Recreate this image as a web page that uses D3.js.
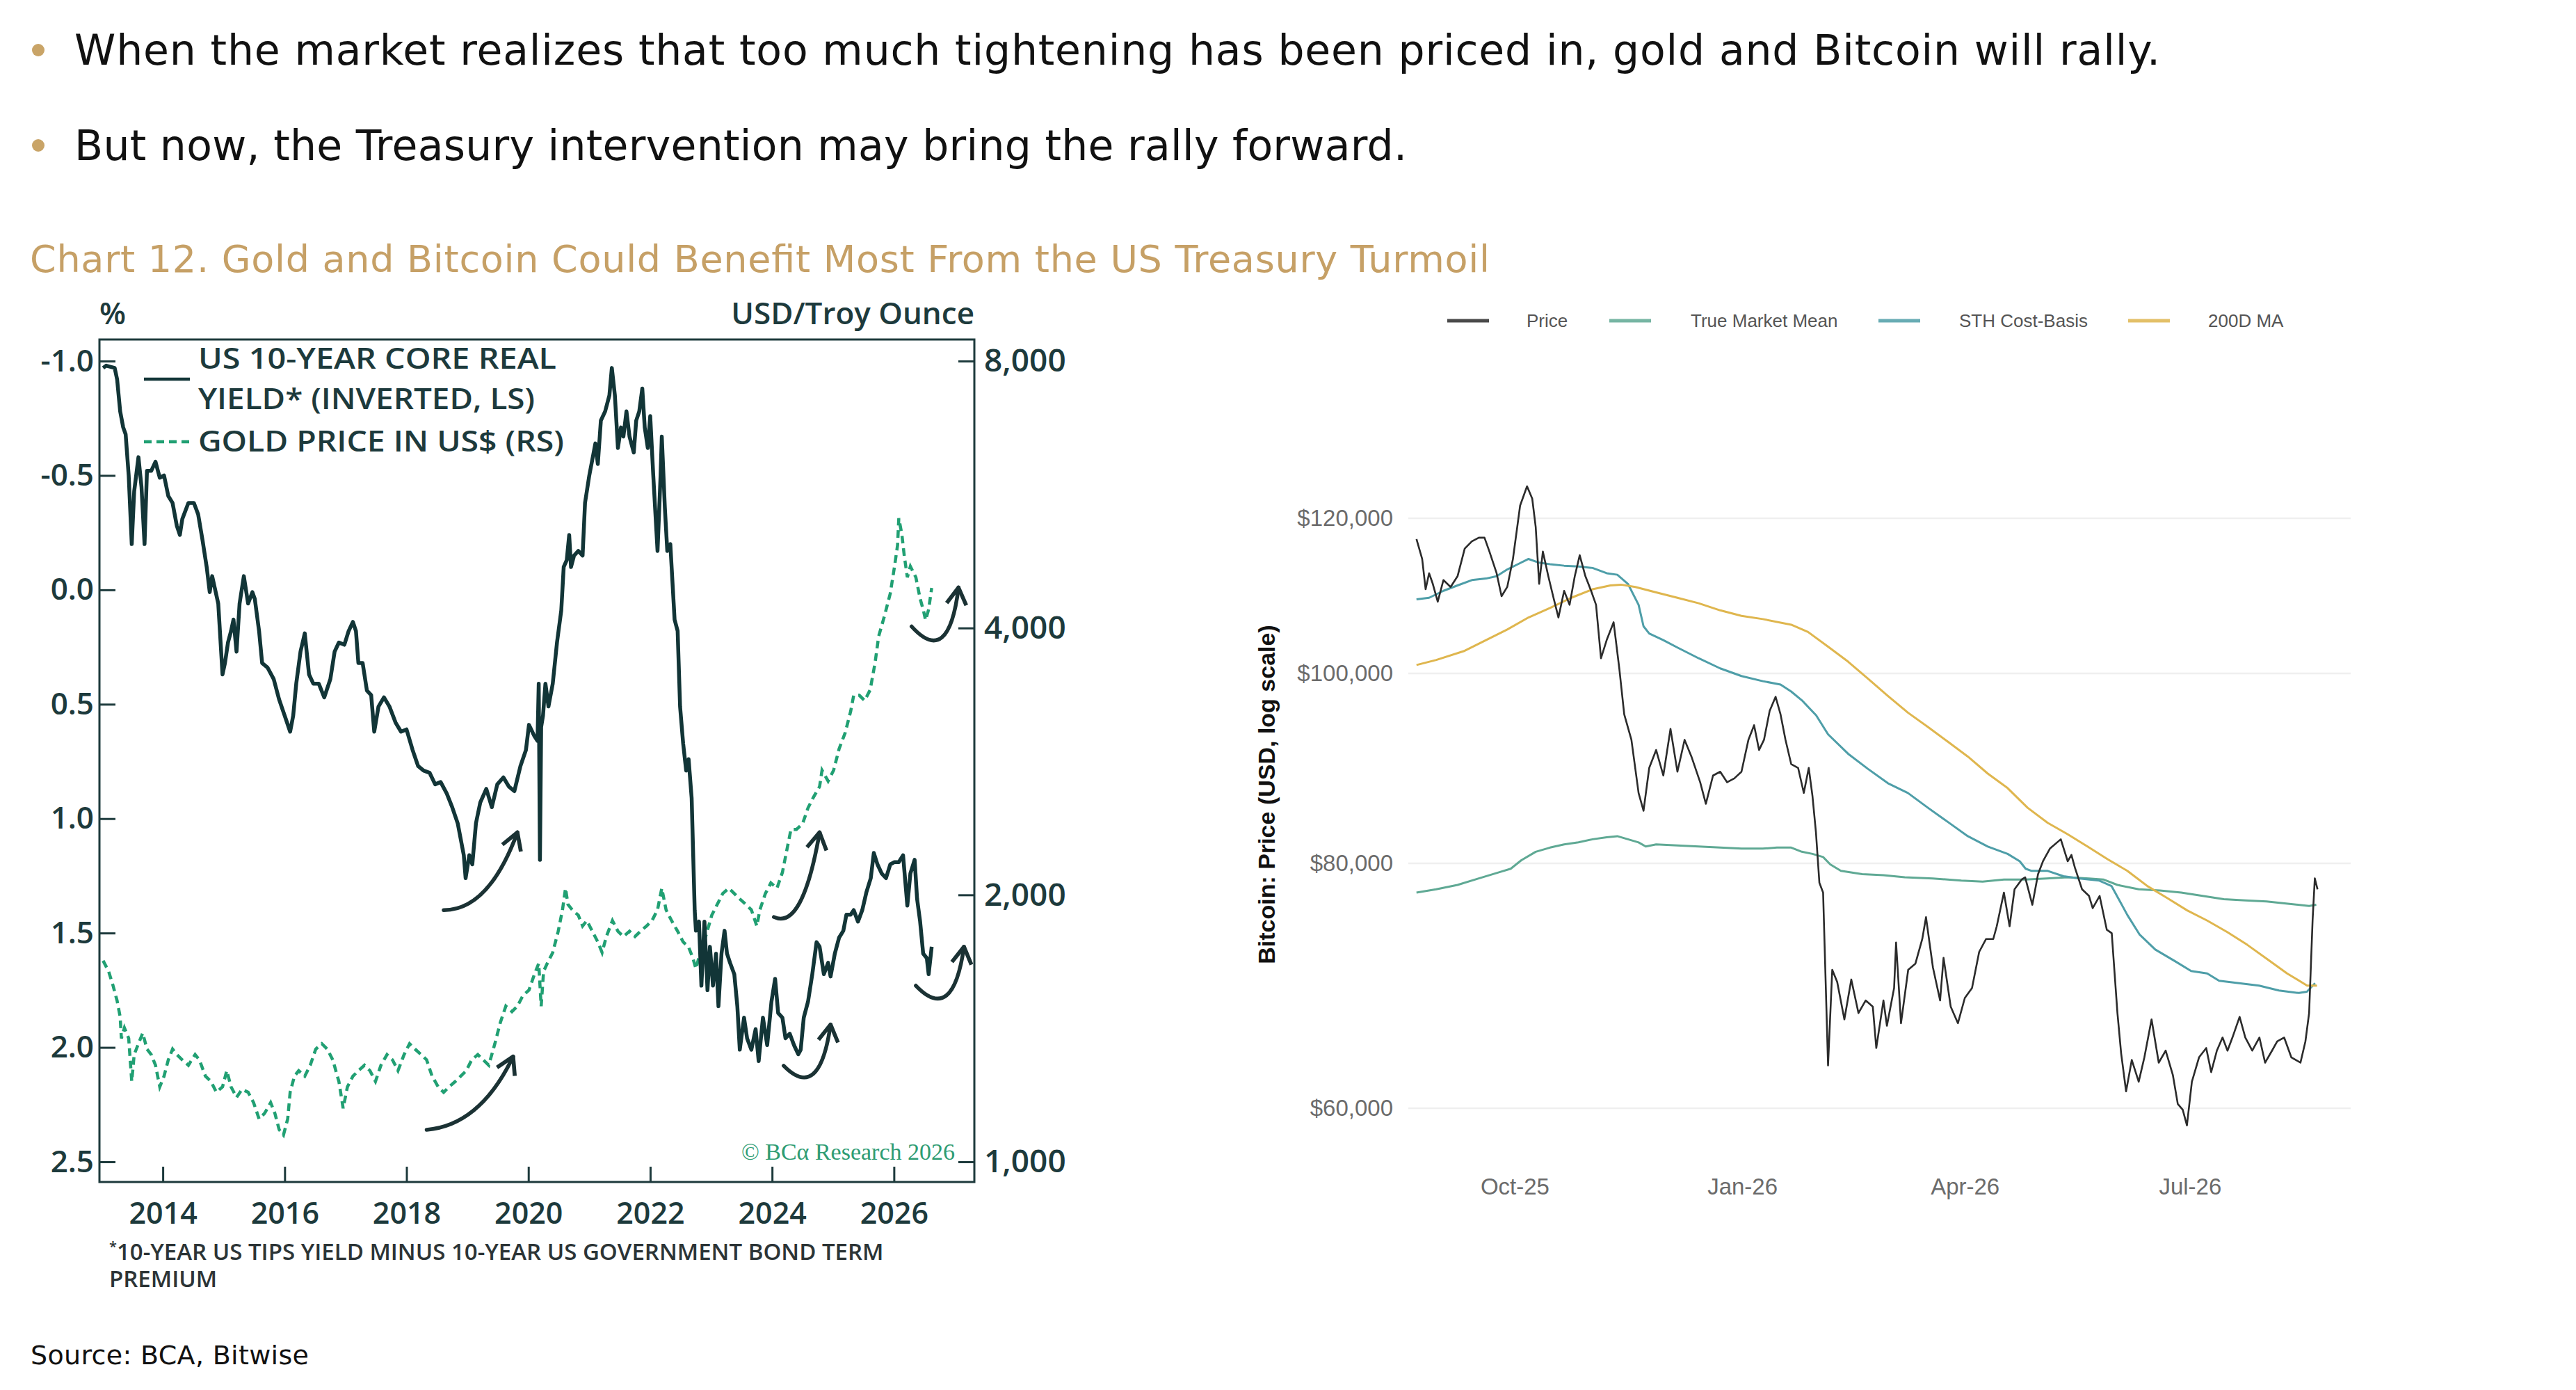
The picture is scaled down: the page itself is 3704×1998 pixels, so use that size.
<!DOCTYPE html>
<html>
<head>
<meta charset="utf-8">
<script src="https://cdn.jsdelivr.net/npm/d3@7"></script>
<style>
  body { margin: 0; background: #fff; }
</style>
</head>
<body>
<div id="canvas"></div>
<script>
// ---- data ----
const bullets = [
    "When the market realizes that too much tightening has been priced in, gold and Bitcoin will rally.",
    "But now, the Treasury intervention may bring the rally forward."
];
const chartTitle = "Chart 12. Gold and Bitcoin Could Benefit Most From the US Treasury Turmoil";

// left panel: [decimal year, value]
const realYield = [
    [2013.02,-0.97],[2013.07,-0.98],[2013.21,-0.97],[2013.25,-0.92],[2013.30,-0.78],[2013.35,-0.71],[2013.39,-0.68],
    [2013.44,-0.50],[2013.49,-0.20],[2013.53,-0.43],[2013.60,-0.58],[2013.65,-0.45],[2013.70,-0.20],[2013.74,-0.52],
    [2013.81,-0.52],[2013.88,-0.56],[2013.95,-0.49],[2014.02,-0.50],[2014.09,-0.41],[2014.16,-0.38],[2014.23,-0.28],
    [2014.28,-0.24],[2014.32,-0.31],[2014.42,-0.38],[2014.51,-0.38],[2014.58,-0.33],[2014.65,-0.22],[2014.72,-0.10],
    [2014.77,0.01],[2014.81,-0.06],[2014.91,0.06],[2014.98,0.37],[2015.02,0.32],[2015.07,0.23],[2015.12,0.18],
    [2015.16,0.13],[2015.21,0.27],[2015.26,0.06],[2015.33,-0.06],[2015.40,0.06],[2015.47,0.01],[2015.51,0.04],
    [2015.58,0.18],[2015.63,0.32],[2015.72,0.34],[2015.82,0.39],[2015.91,0.48],[2016.00,0.55],[2016.09,0.62],
    [2016.14,0.55],[2016.19,0.41],[2016.26,0.27],[2016.33,0.19],[2016.40,0.37],[2016.47,0.41],[2016.56,0.41],
    [2016.65,0.47],[2016.75,0.39],[2016.82,0.27],[2016.89,0.23],[2016.98,0.24],[2017.05,0.18],[2017.12,0.14],
    [2017.17,0.18],[2017.21,0.32],[2017.28,0.32],[2017.35,0.44],[2017.42,0.46],[2017.47,0.62],[2017.54,0.51],
    [2017.63,0.47],[2017.72,0.51],[2017.82,0.58],[2017.91,0.62],[2018.00,0.61],[2018.10,0.70],[2018.19,0.77],
    [2018.28,0.79],[2018.38,0.80],[2018.47,0.85],[2018.56,0.84],[2018.66,0.89],[2018.75,0.95],[2018.84,1.02],
    [2018.94,1.16],[2018.97,1.26],[2019.03,1.16],[2019.08,1.20],[2019.14,1.02],[2019.21,0.93],[2019.31,0.87],
    [2019.40,0.95],[2019.49,0.85],[2019.59,0.82],[2019.68,0.86],[2019.77,0.88],[2019.87,0.77],[2019.96,0.70],
    [2020.01,0.59],[2020.10,0.64],[2020.15,0.66],[2020.17,0.41],[2020.19,1.18],[2020.21,0.60],[2020.24,0.55],
    [2020.28,0.41],[2020.33,0.51],[2020.40,0.41],[2020.47,0.23],[2020.54,0.09],[2020.58,-0.10],[2020.63,-0.13],
    [2020.67,-0.24],[2020.70,-0.10],[2020.75,-0.15],[2020.82,-0.17],[2020.89,-0.15],[2020.93,-0.38],[2021.00,-0.50],
    [2021.05,-0.57],[2021.10,-0.64],[2021.14,-0.55],[2021.19,-0.74],[2021.26,-0.78],[2021.33,-0.85],[2021.37,-0.97],
    [2021.42,-0.85],[2021.47,-0.62],[2021.52,-0.71],[2021.56,-0.67],[2021.61,-0.78],[2021.66,-0.67],[2021.73,-0.60],
    [2021.77,-0.74],[2021.82,-0.78],[2021.87,-0.88],[2021.91,-0.71],[2021.96,-0.62],[2022.00,-0.76],[2022.05,-0.50],
    [2022.12,-0.17],[2022.17,-0.50],[2022.19,-0.67],[2022.24,-0.36],[2022.28,-0.17],[2022.33,-0.20],[2022.40,0.13],
    [2022.45,0.18],[2022.49,0.51],[2022.54,0.67],[2022.59,0.79],[2022.63,0.74],[2022.68,0.91],[2022.73,1.40],
    [2022.75,1.49],[2022.80,1.45],[2022.84,1.73],[2022.89,1.45],[2022.94,1.75],[2022.98,1.56],[2023.03,1.73],
    [2023.08,1.59],[2023.12,1.82],[2023.17,1.59],[2023.22,1.49],[2023.26,1.59],[2023.31,1.63],[2023.38,1.68],
    [2023.43,1.82],[2023.47,2.01],[2023.54,1.87],[2023.59,1.96],[2023.66,2.01],[2023.73,1.92],[2023.78,2.06],
    [2023.85,1.87],[2023.92,1.99],[2023.99,1.80],[2024.05,1.70],[2024.10,1.85],[2024.17,1.87],[2024.22,1.96],
    [2024.29,1.94],[2024.36,1.99],[2024.43,2.03],[2024.47,2.01],[2024.52,1.87],[2024.59,1.80],[2024.66,1.68],
    [2024.73,1.54],[2024.78,1.56],[2024.85,1.68],[2024.92,1.63],[2024.96,1.69],[2025.03,1.59],[2025.10,1.52],
    [2025.17,1.49],[2025.22,1.42],[2025.29,1.42],[2025.34,1.40],[2025.41,1.45],[2025.48,1.40],[2025.55,1.32],
    [2025.62,1.26],[2025.67,1.15],[2025.73,1.20],[2025.80,1.24],[2025.87,1.26],[2025.94,1.20],[2026.01,1.19],
    [2026.08,1.19],[2026.15,1.16],[2026.22,1.38],[2026.27,1.24],[2026.34,1.18],[2026.38,1.35],[2026.43,1.45],
    [2026.48,1.59],[2026.54,1.61],[2026.57,1.68],[2026.62,1.56]
];

const goldPrice = [
    [2013.02,1686],[2013.11,1640],[2013.18,1583],[2013.25,1519],[2013.30,1457],[2013.32,1378],[2013.37,1416],
    [2013.44,1378],[2013.49,1232],[2013.53,1321],[2013.60,1359],[2013.67,1397],[2013.74,1340],[2013.81,1321],
    [2013.88,1285],[2013.95,1215],[2014.02,1249],[2014.09,1303],[2014.16,1340],[2014.23,1321],[2014.32,1303],
    [2014.42,1285],[2014.53,1321],[2014.60,1303],[2014.70,1249],[2014.79,1232],[2014.88,1198],[2014.98,1215],
    [2015.05,1267],[2015.12,1215],[2015.21,1182],[2015.30,1207],[2015.40,1198],[2015.49,1166],[2015.58,1118],
    [2015.67,1134],[2015.77,1166],[2015.84,1134],[2015.91,1087],[2015.98,1072],[2016.05,1118],[2016.09,1198],
    [2016.16,1249],[2016.23,1267],[2016.33,1249],[2016.42,1285],[2016.51,1340],[2016.61,1359],[2016.70,1340],
    [2016.79,1303],[2016.89,1232],[2016.96,1149],[2017.03,1215],[2017.12,1249],[2017.21,1267],[2017.31,1285],
    [2017.40,1267],[2017.49,1232],[2017.58,1285],[2017.68,1321],[2017.77,1303],[2017.86,1267],[2017.96,1321],
    [2018.05,1359],[2018.14,1340],[2018.24,1321],[2018.33,1303],[2018.42,1249],[2018.52,1215],[2018.61,1198],
    [2018.70,1215],[2018.80,1232],[2018.89,1249],[2018.98,1267],[2019.07,1303],[2019.17,1321],[2019.26,1303],
    [2019.35,1285],[2019.45,1359],[2019.54,1436],[2019.63,1498],[2019.73,1477],[2019.82,1498],[2019.91,1540],
    [2020.01,1562],[2020.10,1628],[2020.17,1674],[2020.21,1498],[2020.25,1640],[2020.31,1674],[2020.40,1722],
    [2020.49,1820],[2020.56,1924],[2020.61,2035],[2020.65,1951],[2020.72,1924],[2020.82,1897],[2020.89,1845],
    [2020.96,1871],[2021.05,1820],[2021.14,1770],[2021.21,1722],[2021.28,1795],[2021.38,1871],[2021.47,1820],
    [2021.56,1795],[2021.66,1820],[2021.75,1795],[2021.84,1820],[2021.94,1845],[2022.03,1871],[2022.12,1924],
    [2022.19,2035],[2022.26,1924],[2022.35,1871],[2022.45,1820],[2022.54,1770],[2022.63,1746],[2022.70,1698],
    [2022.75,1651],[2022.82,1722],[2022.91,1795],[2023.01,1897],[2023.10,1951],[2023.19,2007],[2023.29,2035],
    [2023.38,2007],[2023.47,1979],[2023.57,1951],[2023.66,1924],[2023.75,1845],[2023.80,1924],[2023.89,2007],
    [2023.98,2063],[2024.08,2035],[2024.17,2121],[2024.24,2243],[2024.31,2371],[2024.40,2371],[2024.50,2405],
    [2024.59,2507],[2024.68,2578],[2024.78,2650],[2024.82,2764],[2024.92,2688],[2025.01,2764],[2025.10,2922],
    [2025.20,3047],[2025.29,3222],[2025.34,3359],[2025.43,3359],[2025.52,3313],[2025.61,3406],[2025.69,3652],
    [2025.75,3915],[2025.85,4139],[2025.94,4376],[2026.01,4693],[2026.06,4961],[2026.08,5319],[2026.13,5101],
    [2026.17,4824],[2026.22,4563],[2026.27,4693],[2026.36,4563],[2026.43,4316],[2026.48,4198],[2026.52,4082],
    [2026.57,4198],[2026.62,4438]
];

const yearTicks = [2014, 2016, 2018, 2020, 2022, 2024, 2026];
const yieldTicks = [-1.0, -0.5, 0.0, 0.5, 1.0, 1.5, 2.0, 2.5];
const goldTicks = [1000, 2000, 4000, 8000];

// hand-drawn arrows, in [year, yield] units: start, bend, tip
const arrows = [
    [[2018.61, 1.40], [2019.35, 1.40], [2019.82, 1.06]],
    [[2018.33, 2.36], [2019.21, 2.34], [2019.75, 2.04]],
    [[2024.03, 1.43], [2024.50, 1.49], [2024.78, 1.06]],
    [[2024.19, 2.08], [2024.78, 2.24], [2024.96, 1.90]],
    [[2026.36, 1.73], [2026.97, 1.90], [2027.15, 1.56]],
    [[2026.29, 0.16], [2026.90, 0.34], [2027.06, -0.01]]
];

// right panel: [days from 2025-10-01, USD]
const btcPrice = [
    [-39.7,117100],[-37.4,114400],[-36.0,110400],[-34.6,112500],[-33.1,111100],[-31.1,108800],[-28.8,111600],
    [-25.9,110700],[-23.1,112100],[-20.2,115800],[-17.3,116800],[-14.5,117300],[-12.2,117300],[-10.2,115400],
    [-7.3,112500],[-5.3,109500],[-3.0,110700],[-0.7,114400],[2.2,121800],[5.0,124600],[7.1,122800],[8.5,118800],
    [9.9,111100],[11.4,115400],[13.6,112100],[15.7,109300],[17.7,106800],[20.0,110200],[22.2,108400],[24.3,112100],
    [26.3,114900],[28.6,112100],[30.9,110200],[32.9,108400],[34.9,101800],[37.2,104000],[40.0,106200],[42.3,100600],
    [44.3,95300],[47.2,92500],[50.1,86900],[52.1,85100],[54.4,89500],[57.2,91400],[60.1,88700],[63.0,93700],
    [65.8,89100],[68.7,92500],[71.6,90600],[75.0,88000],[77.3,85800],[80.2,88700],[83.1,89100],[85.9,88000],
    [88.8,88400],[91.7,89100],[94.5,92500],[96.8,94100],[98.8,91400],[100.8,92500],[103.1,95700],[105.5,97300],
    [107.5,95300],[109.5,92500],[111.8,89900],[114.6,89500],[116.9,86900],[118.9,89500],[120.4,86600],[121.8,83000],
    [123.2,78200],[124.7,77300],[126.7,63100],[128.4,70600],[130.4,69600],[133.3,66600],[136.1,69800],[139.0,67100],
    [141.9,68100],[144.8,67600],[146.2,64400],[149.1,68100],[150.5,66100],[153.4,69100],[154.2,72900],[156.2,66300],
    [159.1,70600],[162.0,71100],[164.8,73200],[166.3,75100],[169.1,70800],[172.0,68100],[173.4,71600],[176.3,67600],
    [179.2,66300],[182.0,68300],[184.9,69100],[187.8,72100],[190.6,73200],[193.5,73200],[194.9,74300],[197.8,77300],
    [200.1,74300],[202.1,77600],[205.0,78500],[206.4,78700],[209.3,76200],[211.6,79000],[213.6,80200],[216.4,81400],
    [220.8,82300],[223.6,80200],[225.1,80800],[226.5,79600],[229.4,77600],[232.2,77000],[233.7,75900],[236.5,77000],
    [239.4,74000],[241.4,73700],[243.7,67100],[245.2,64000],[247.2,61200],[249.5,63500],[252.3,61900],[254.6,63700],
    [257.5,66600],[260.4,63300],[263.2,64200],[266.1,62400],[268.1,60300],[270.1,59900],[271.8,58800],[273.8,61900],
    [276.7,63700],[279.6,64400],[281.6,62600],[283.9,64200],[286.2,65200],[288.2,64200],[290.2,65200],[293.1,66800],
    [295.4,65200],[298.2,64200],[301.1,65200],[303.4,63300],[306.2,64200],[308.3,64900],[311.1,65200],[314.0,63700],
    [317.7,63300],[319.7,64900],[321.2,67100],[322.6,74800],[323.5,78600],[324.6,77600]
];

const btcTrueMarketMean = [
    [-39.7,77300],[-31.7,77600],[-23.1,78000],[-14.5,78600],[-5.9,79200],[-1.6,79500],[2.7,80300],[8.5,81100],
    [14.3,81500],[20.0,81800],[25.8,82000],[31.5,82300],[37.2,82500],[41.5,82600],[45.8,82300],[50.1,82000],
    [53.0,81600],[57.2,81800],[65.8,81700],[74.4,81600],[83.1,81500],[91.7,81400],[100.3,81400],[106.0,81500],
    [111.8,81500],[116.1,81100],[120.4,80900],[124.7,80600],[127.6,79900],[131.9,79300],[140.5,79000],[149.1,78900],
    [157.7,78700],[169.1,78600],[180.6,78400],[189.2,78300],[197.8,78500],[206.4,78500],[215.0,78600],[223.6,78700],
    [232.2,78600],[238.0,78500],[243.7,78000],[252.3,77600],[260.9,77500],[269.5,77300],[278.1,77000],[286.7,76700],
    [295.4,76600],[304.0,76500],[312.6,76300],[321.2,76100],[324.1,76200]
];

const btcSthCostBasis = [
    [-39.7,109100],[-34.6,109300],[-28.8,110200],[-23.1,110900],[-17.3,111600],[-11.6,111800],[-7.3,112100],
    [-3.0,113000],[1.3,113700],[5.6,114400],[9.9,113900],[14.3,113700],[20.0,113500],[25.8,113400],[31.5,113200],
    [37.2,112500],[41.5,112300],[45.8,111100],[50.1,108400],[52.1,105700],[54.4,104800],[60.1,104000],[65.8,103100],
    [74.4,101800],[83.1,100600],[91.7,99700],[100.3,99100],[107.5,98700],[111.8,97900],[116.1,96900],[121.9,95200],
    [126.7,93100],[134.8,91000],[142.8,89400],[150.9,87900],[159.0,86900],[167.1,85400],[175.1,84000],[183.2,82600],
    [191.3,81600],[199.3,80900],[204.2,80200],[206.6,79500],[209.0,79300],[215.5,79300],[221.9,78800],[228.4,78600],
    [236.4,78400],[241.3,77900],[244.5,76600],[247.7,75300],[252.6,73600],[259.0,72300],[267.1,71300],[273.5,70500],
    [280.0,70300],[284.8,69700],[292.9,69500],[301.0,69300],[309.0,68900],[317.1,68700],[320.3,68800],[323.6,69500]
];

const btcMa200 = [
    [-39.7,101000],[-31.7,101600],[-20.2,102700],[-11.6,104000],[-3.0,105300],[5.6,106800],[14.3,108000],
    [22.9,109300],[31.5,110400],[38.7,110900],[43.0,111000],[48.8,110700],[57.2,110000],[65.8,109300],[74.4,108600],
    [83.1,107700],[91.7,107000],[100.3,106600],[111.8,105900],[118.6,105000],[126.7,103200],[134.8,101400],
    [142.8,99400],[150.9,97400],[159.0,95500],[167.1,93900],[175.1,92300],[183.2,90700],[191.3,88900],[199.3,87400],
    [207.4,85400],[215.5,83900],[223.5,82800],[231.6,81600],[239.7,80400],[247.7,79300],[255.8,77900],[263.9,76800],
    [271.9,75700],[280.0,74800],[288.1,73800],[296.2,72700],[304.2,71500],[312.3,70300],[320.4,69300],[324.4,69300]
];

const btcTicks = [60000, 80000, 100000, 120000];
const monthTicks = ["2025-10-01", "2026-01-01", "2026-04-01", "2026-07-01"];
const btcSeries = ["Price", "True Market Mean", "STH Cost-Basis", "200D MA"];
const btcColors = ["#2b2b2b", "#5fa994", "#4e9ea8", "#dfb64e"];

// ---- page ----
const W = 3704, H = 1998;
const canvas = d3.select("#canvas");
const svg = canvas.append("svg").attr("width", W).attr("height", H);
const pageFont = "'DejaVu Sans', Lato, sans-serif";

// header
const bulletY = [93, 230];
const bulletLen = [2999, 1916];
bullets.forEach((t, i) => {
    svg.append("circle").attr("cx", 55).attr("cy", bulletY[i] - 21).attr("r", 9).style("fill", "#c9a467");
    svg.append("text")
        .attr("x", 107).attr("y", bulletY[i])
        .attr("textLength", bulletLen[i]).attr("lengthAdjust", "spacing")
        .style("font-family", pageFont)
        .style("font-size", "60px")
        .style("fill", "#111")
        .text(t);
});
svg.append("text")
    .attr("x", 43).attr("y", 391)
    .attr("textLength", 2099).attr("lengthAdjust", "spacing")
    .style("font-family", pageFont)
    .style("font-size", "54px")
    .style("fill", "#c6a066")
    .text(chartTitle);

// ===== left panel: real yield vs gold =====
const ink = "#1d3a3c";
const L = { x: 143, y: 488, w: 1258, h: 1211 };
const gL = svg.append("g").attr("transform", `translate(${L.x},${L.y})`)
    .style("font-family", "'Open Sans', sans-serif");

const xL = d3.scaleLinear().domain([2012.96, 2027.32]).range([0, L.w]);
const yL = d3.scaleLinear().domain([-1, 2.5]).range([31, 1182]);
const yR = d3.scaleLog().base(2).domain([1000, 8000]).range([1182, 31]);

gL.append("path")
    .datum(goldPrice)
    .attr("d", d3.line().x(d => xL(d[0])).y(d => yR(d[1])))
    .style("fill", "none")
    .style("stroke", "#21a073")
    .style("stroke-width", 4.5)
    .style("stroke-dasharray", "11,7");

gL.append("path")
    .datum(realYield)
    .attr("d", d3.line().x(d => xL(d[0])).y(d => yL(d[1])))
    .style("fill", "none")
    .style("stroke", "#123537")
    .style("stroke-width", 5.5)
    .style("stroke-linejoin", "round");

// arrows
const defs = svg.append("defs");
defs.append("marker")
    .attr("id", "head")
    .attr("markerUnits", "userSpaceOnUse")
    .attr("viewBox", "0 0 24 24")
    .attr("refX", 21).attr("refY", 12)
    .attr("markerWidth", 34).attr("markerHeight", 34)
    .attr("orient", "auto")
    .append("path")
    .attr("d", "M4,2 L21,12 L4,22")
    .style("fill", "none")
    .style("stroke", "#1b3234")
    .style("stroke-width", 4)
    .style("stroke-linejoin", "round");

arrows.forEach(a => {
    const p = d3.path();
    p.moveTo(xL(a[0][0]), yL(a[0][1]));
    p.quadraticCurveTo(xL(a[1][0]), yL(a[1][1]), xL(a[2][0]), yL(a[2][1]));
    gL.append("path")
        .attr("d", p.toString())
        .attr("marker-end", "url(#head)")
        .style("fill", "none")
        .style("stroke", "#1b3234")
        .style("stroke-width", 5.5)
        .style("stroke-linecap", "round");
});

gL.append("rect")
    .attr("width", L.w).attr("height", L.h)
    .style("fill", "none").style("stroke", ink).style("stroke-width", 3);

const styleAxis = g => {
    g.select(".domain").remove();
    g.selectAll(".tick line").style("stroke", ink).style("stroke-width", 3);
    g.selectAll(".tick text")
        .style("font-family", "'Open Sans', sans-serif")
        .style("font-size", "44px")
        .style("font-weight", 600)
        .style("fill", ink);
};

gL.append("g")
    .call(d3.axisLeft(yL).tickValues(yieldTicks).tickSize(-23).tickPadding(8)
        .tickFormat(d => d3.format(".1f")(d).replace("\u2212", "-")))
    .call(styleAxis);

gL.append("g")
    .attr("transform", `translate(${L.w},0)`)
    .call(d3.axisRight(yR).tickValues(goldTicks).tickSize(-23).tickPadding(14).tickFormat(d3.format(",")))
    .call(styleAxis)
    .call(g => g.selectAll(".tick text").style("font-size", "46px"));

gL.append("g")
    .attr("transform", `translate(0,${L.h})`)
    .call(d3.axisBottom(xL).tickValues(yearTicks).tickSize(-22).tickPadding(29).tickFormat(d3.format("d")))
    .call(styleAxis)
    .call(g => g.selectAll(".tick text").style("font-size", "43px"));

// unit labels
const unitStyle = s => s.style("font-family", "'Open Sans', sans-serif").style("font-size", "44px")
    .style("font-weight", 600).style("fill", ink);
svg.append("text").attr("x", 143).attr("y", 466).text("%").call(unitStyle);
svg.append("text").attr("x", 1401).attr("y", 466).attr("text-anchor", "end").text("USD/Troy Ounce").call(unitStyle);

// legend
svg.append("line").attr("x1", 207).attr("x2", 273).attr("y1", 545).attr("y2", 545)
    .style("stroke", "#123537").style("stroke-width", 4.5);
svg.append("line").attr("x1", 207).attr("x2", 273).attr("y1", 635).attr("y2", 635)
    .style("stroke", "#21a073").style("stroke-width", 4.5).style("stroke-dasharray", "11,7");
const legendLines = ["US 10-YEAR CORE REAL", "YIELD* (INVERTED, LS)", "GOLD PRICE IN US$ (RS)"];
const legendBase = [530, 588, 649];
const legendLen = [515, 484, 526];
legendLines.forEach((t, i) => {
    svg.append("text").attr("x", 285).attr("y", legendBase[i])
        .attr("textLength", legendLen[i]).attr("lengthAdjust", "spacingAndGlyphs")
        .text(t)
        .call(unitStyle).style("font-size", "42px");
});

// copyright
svg.append("text")
    .attr("x", 1373).attr("y", 1667).attr("text-anchor", "end")
    .style("font-family", "'Liberation Serif', 'DejaVu Serif', serif")
    .style("font-size", "34px")
    .style("fill", "#2e9c73")
    .text("\u00A9 BC\u03B1 Research 2026");

// footnote
const foot = svg.append("text")
    .style("font-family", "'Open Sans', sans-serif").style("font-size", "33px")
    .style("font-weight", 600).style("fill", "#2c3436");
foot.append("tspan").attr("x", 157).attr("y", 1799).style("font-size", "20px").text("*");
foot.append("tspan").attr("y", 1811).text("10-YEAR US TIPS YIELD MINUS 10-YEAR US GOVERNMENT BOND TERM");
svg.append("text")
    .attr("x", 157).attr("y", 1850)
    .style("font-family", "'Open Sans', sans-serif").style("font-size", "33px")
    .style("font-weight", 600).style("fill", "#2c3436")
    .text("PREMIUM");

svg.append("text")
    .attr("x", 44).attr("y", 1961)
    .attr("textLength", 400).attr("lengthAdjust", "spacing")
    .style("font-family", pageFont)
    .style("font-size", "38px")
    .style("fill", "#111")
    .text("Source: BCA, Bitwise");

// ===== right panel: bitcoin =====
const R = { x: 2025, y: 560, w: 1355, h: 1100 };
const gR = svg.append("g").attr("transform", `translate(${R.x},${R.y})`)
    .style("font-family", "'Liberation Sans', Arial, sans-serif");

const baseDay = Date.UTC(2025, 9, 1);
const toDate = d => new Date(baseDay + d * 864e5);
const xB = d3.scaleUtc()
    .domain([new Date(Date.UTC(2025, 7, 19)), new Date(Date.UTC(2026, 8, 4))])
    .range([0, R.w]);
const yB = d3.scaleLog().domain([60000, 120000]).range([1033, 185]);

gR.selectAll("line.grid").data(btcTicks).enter().append("line")
    .attr("class", "grid")
    .attr("x1", 0).attr("x2", R.w)
    .attr("y1", d => yB(d)).attr("y2", d => yB(d))
    .style("stroke", "#efefef").style("stroke-width", 2.5);

gR.append("g")
    .call(d3.axisLeft(yB).tickValues(btcTicks).tickSize(0).tickPadding(22)
        .tickFormat(d => "$" + d3.format(",")(d)))
    .call(g => g.select(".domain").remove())
    .call(g => g.selectAll(".tick text").style("font-size", "33px").style("fill", "#6b6b6b")
        .style("font-family", "'Liberation Sans', Arial, sans-serif"));

gR.append("g")
    .attr("transform", `translate(0,${R.h})`)
    .call(d3.axisBottom(xB).tickValues(monthTicks.map(d3.utcParse("%Y-%m-%d"))).tickSize(0).tickPadding(34)
        .tickFormat(d3.utcFormat("%b-%y")))
    .call(g => g.select(".domain").remove())
    .call(g => g.selectAll(".tick text").style("font-size", "33px").style("fill", "#6b6b6b")
        .style("font-family", "'Liberation Sans', Arial, sans-serif"));

const btcLine = d3.line().x(d => xB(toDate(d[0]))).y(d => yB(d[1]));
const drawOrder = [
    [btcTrueMarketMean, btcColors[1], 3],
    [btcSthCostBasis, btcColors[2], 3],
    [btcMa200, btcColors[3], 3],
    [btcPrice, btcColors[0], 2.6]
];
drawOrder.forEach(s => {
    gR.append("path")
        .datum(s[0])
        .attr("d", btcLine)
        .style("fill", "none")
        .style("stroke", s[1])
        .style("stroke-width", s[2])
        .style("stroke-linejoin", "round");
});

svg.append("text")
    .attr("transform", "translate(1833,1142) rotate(-90)")
    .attr("text-anchor", "middle")
    .style("font-family", "'Liberation Sans', Arial, sans-serif")
    .style("font-size", "34px")
    .style("font-weight", "bold")
    .style("fill", "#111")
    .text("Bitcoin: Price (USD, log scale)");

// legend
const legX = [2081, 2314, 2701, 3060];
const legTextX = [2195, 2431, 2817, 3175];
btcSeries.forEach((name, i) => {
    svg.append("line")
        .attr("x1", legX[i]).attr("x2", legX[i] + 60)
        .attr("y1", 461).attr("y2", 461)
        .style("stroke", btcColors[i]).style("stroke-width", 5).style("opacity", 0.85);
    svg.append("text")
        .attr("x", legTextX[i]).attr("y", 470)
        .style("font-family", "'Liberation Sans', Arial, sans-serif")
        .style("font-size", "26px")
        .style("fill", "#555")
        .text(name);
});
</script>
</body>
</html>
